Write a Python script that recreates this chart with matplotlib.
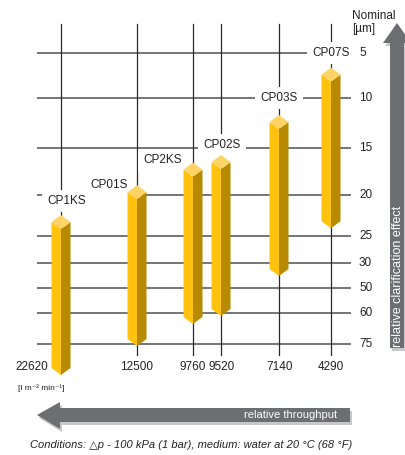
import numpy as np
import matplotlib
matplotlib.use("Agg")
import matplotlib.pyplot as plt
from matplotlib import transforms
from matplotlib.patches import Polygon

plt.rcParams['font.family'] = ['Liberation Sans', 'DejaVu Sans']

# ---------------- data ----------------
products = ["CP1KS", "CP01S", "CP2KS", "CP02S", "CP03S", "CP07S"]
throughput = ["22620", "12500", "9760", "9520", "7140", "4290"]
nominal_top = [23.3, 19.7, 17.3, 16.5, 12.4, 7.4]      # µm, upper end of bar
nominal_bottom = [86.6, 72.6, 61.9, 58.4, 34.8, 23.2]  # µm, lower end of bar
y_ticks = [5, 10, 15, 20, 25, 30, 50, 60, 75]

# ---------------- layout ----------------
W, H = 406, 455
x_pos = [61, 137, 193, 221, 279, 331]                   # column positions (px)
tick_rows = [53, 98, 148, 195, 236, 263, 288, 313, 344]  # row of each y tick (px)
label_xy = [(67, 201), (109, 185), (163, 160), (222, 145), (279, 98), (331, 53)]
xlabel_xy = [(48, 367, 'right'), (137, 367, 'center'), (193, 367, 'center'),
             (222, 367, 'center'), (280, 367, 'center'), (331, 367, 'center')]
bw, bh = 9.5, 7.0

C_FRONT = "#FFC20E"
C_SIDE = "#B88A00"
C_TOP = "#FFD466"
C_ARROW = "#6D6E71"
C_SHADOW = "#C8C8C8"
C_TXT = "#222222"


def lin(x, xp, fp):
    x = np.asarray(x, float)
    xp = np.asarray(xp, float)
    fp = np.asarray(fp, float)
    y = np.interp(x, xp, fp)
    lo_s = (fp[1] - fp[0]) / (xp[1] - xp[0])
    hi_s = (fp[-1] - fp[-2]) / (xp[-1] - xp[-2])
    y = np.where(x < xp[0], fp[0] + (x - xp[0]) * lo_s, y)
    y = np.where(x > xp[-1], fp[-1] + (x - xp[-1]) * hi_s, y)
    return y


def fwd(v):
    return lin(v, y_ticks, tick_rows)


def inv(p):
    return lin(p, tick_rows, y_ticks)


fig = plt.figure(figsize=(W / 100, H / 100), dpi=100)
fig.patch.set_facecolor("white")
ax = fig.add_axes([0, 0, 1, 1])
ax.axis('off')
ax.set_xlim(0, W)
ax.set_yscale('function', functions=(fwd, inv))
ax.set_ylim(float(inv(H)), float(inv(0)))

# pixel-from-top transform
PX = transforms.Affine2D().scale(1 / W, -1 / H).translate(0, 1) + fig.transFigure


def row_of(v):
    fig.canvas.draw()
    return H - ax.transData.transform((0, v))[1]


# horizontal grid lines
ax.hlines(y_ticks, 37, 351, color="#6a6a6a", lw=1.3, zorder=1)

# vertical lines
for x in x_pos:
    ax.plot([x, x], [1 - 24 / H, 1 - 355 / H], color="#2a2a2a", lw=0.9,
            transform=ax.get_xaxis_transform(), zorder=1.5)

# bars
for i, x in enumerate(x_pos):
    yt = row_of(nominal_top[i])
    yb = row_of(nominal_bottom[i])
    left = [(x - bw, yt), (x, yt + bh), (x, yb + bh), (x - bw, yb)]
    right = [(x, yt + bh), (x + bw, yt), (x + bw, yb), (x, yb + bh)]
    top = [(x, yt - bh), (x + bw, yt), (x, yt + bh), (x - bw, yt)]
    for pts, c in ((left, C_FRONT), (right, C_SIDE), (top, C_TOP)):
        fig.patches.append(Polygon(pts, closed=True, facecolor=c, edgecolor='none',
                                   transform=PX, zorder=3))

# product labels
for name, (lx, ly) in zip(products, label_xy):
    fig.text(lx, ly, name, transform=PX, ha='center', va='center', fontsize=8.5,
             color=C_TXT, zorder=2.5,
             bbox=dict(boxstyle='square,pad=0.45', fc='white', ec='none'))

# right tick labels
for v in y_ticks:
    ax.text(359, v, str(v), ha='left', va='center', fontsize=8.5, color=C_TXT)

# bottom throughput labels
for t, (lx, ly, ha) in zip(throughput, xlabel_xy):
    fig.text(lx, ly, t, transform=PX, ha=ha, va='center', fontsize=8.5, color=C_TXT)

fig.text(352, 16, "Nominal", transform=PX, ha='left', va='center', fontsize=8.5, color=C_TXT)
fig.text(352, 29, "[µm]", transform=PX, ha='left', va='center', fontsize=8.5, color=C_TXT)
fig.text(18, 388, "[l m\u207b\u00b2 min\u207b\u00b9]", transform=PX, ha='left', va='center',
         fontsize=6, color=C_TXT)

# vertical arrow (relative clarification effect)
varrow = [(397, 23), (411, 43), (404, 43), (404, 348), (390, 348), (390, 43), (383, 43)]
fig.patches.append(Polygon([(px + 2, py + 3) for px, py in varrow], closed=True,
                           facecolor=C_SHADOW, edgecolor='none', transform=PX, zorder=1))
fig.patches.append(Polygon(varrow, closed=True, facecolor=C_ARROW, edgecolor='none',
                           transform=PX, zorder=2))
fig.text(398, 347, "relative clarification effect", transform=PX, rotation=90,
         rotation_mode='anchor', ha='left', va='center', fontsize=9, color='white', zorder=5)

# horizontal arrow (relative throughput)
harrow = [(37, 415), (60, 402), (60, 408), (350, 408), (350, 422), (60, 422), (60, 429)]
fig.patches.append(Polygon([(px + 2, py + 3) for px, py in harrow], closed=True,
                           facecolor=C_SHADOW, edgecolor='none', transform=PX, zorder=1))
fig.patches.append(Polygon(harrow, closed=True, facecolor=C_ARROW, edgecolor='none',
                           transform=PX, zorder=2))
fig.text(337, 415, "relative throughput", transform=PX, ha='right', va='center',
         fontsize=8, color='white', zorder=5)

fig.text(191, 445, "Conditions: \u25b3p - 100 kPa (1 bar), medium: water at 20 °C (68 °F)",
         transform=PX, ha='center', va='center', fontsize=8, style='italic', color=C_TXT,
         family=['Liberation Sans', 'DejaVu Sans'])

fig.savefig("out.png", dpi=100)
